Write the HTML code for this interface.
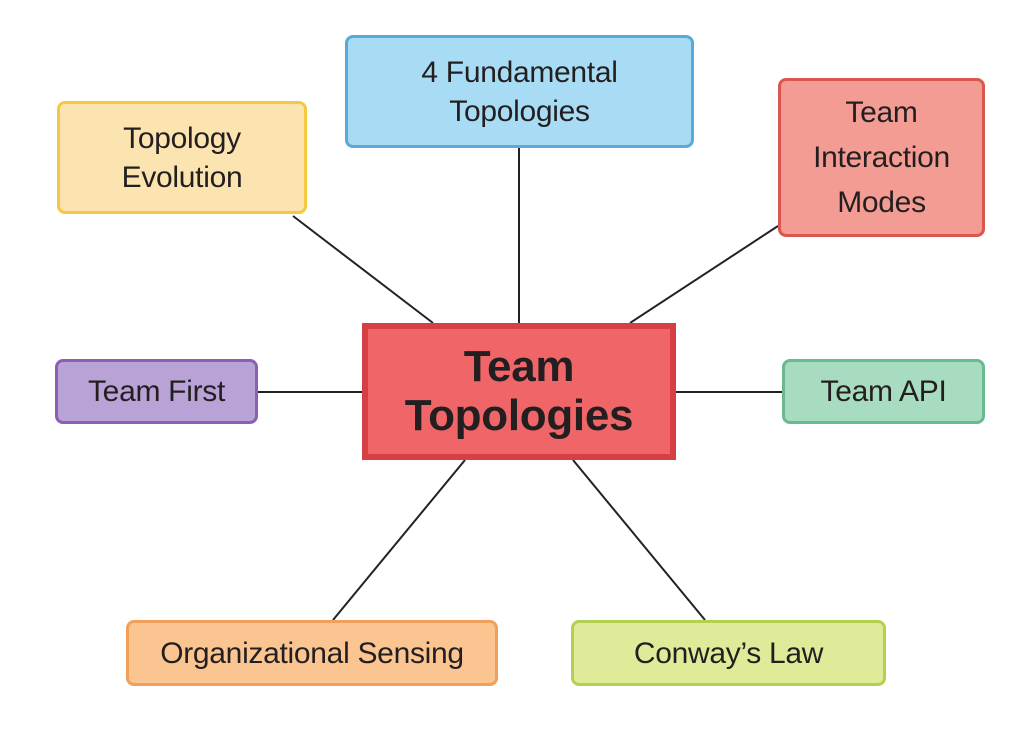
<!DOCTYPE html>
<html><head><style>
body{margin:0;width:1034px;height:730px;background:#fff;position:relative;overflow:hidden;font-family:"Liberation Sans",sans-serif;}
.b{position:absolute;box-sizing:border-box;border:3px solid;border-radius:8px;display:flex;align-items:center;justify-content:center;text-align:center;font-size:30px;line-height:1.3;color:#231f20;letter-spacing:-0.3px}
svg{position:absolute;left:0;top:0}
</style></head><body>
<svg width="1034" height="730"><g stroke="#222" stroke-width="2">
<line x1="293" y1="216" x2="433" y2="323"/>
<line x1="519" y1="148" x2="519" y2="323"/>
<line x1="778" y1="226" x2="630" y2="323"/>
<line x1="258" y1="392" x2="362" y2="392"/>
<line x1="676" y1="392" x2="782" y2="392"/>
<line x1="465" y1="460" x2="333" y2="620"/>
<line x1="573" y1="460" x2="705" y2="620"/>
</g></svg>
<div class="b" style="left:57px;top:101px;width:250px;height:113px;background:#fce4b0;border-color:#f5c842">Topology<br>Evolution</div>
<div class="b" style="left:345px;top:35px;width:349px;height:113px;background:#a8dcf5;border-color:#5aa9d8">4 Fundamental<br>Topologies</div>
<div class="b" style="left:778px;top:78px;width:207px;height:159px;background:#f39c94;border-color:#d8574f;line-height:1.5">Team<br>Interaction<br>Modes</div>
<div class="b" style="left:362px;top:323px;width:314px;height:137px;background:#f06567;border:6px solid #d63f43;border-radius:0;font-size:44px;font-weight:bold;line-height:1.1">Team<br>Topologies</div>
<div class="b" style="left:55px;top:359px;width:203px;height:65px;background:#b9a3d6;border-color:#8a5fb5">Team First</div>
<div class="b" style="left:782px;top:359px;width:203px;height:65px;background:#a8dcc0;border-color:#6cb890">Team API</div>
<div class="b" style="left:126px;top:620px;width:372px;height:66px;background:#fbc592;border-color:#f0a05a">Organizational Sensing</div>
<div class="b" style="left:571px;top:620px;width:315px;height:66px;background:#dfeb98;border-color:#b5d050">Conway’s Law</div>
</body></html>
